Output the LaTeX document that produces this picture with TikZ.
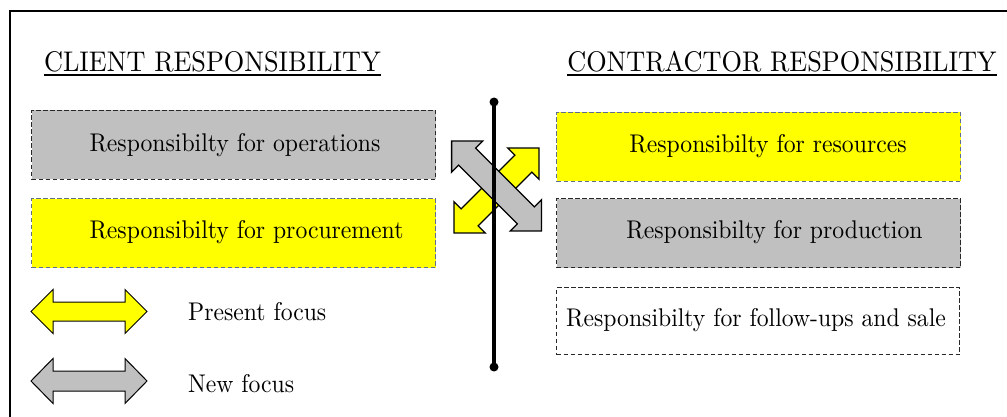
\documentclass[tikz,border=0pt]{standalone}
\usepackage{fontspec}
\setmainfont{lmroman10-regular.otf}[FakeStretch=0.925]
\usetikzlibrary{calc}
\definecolor{boxgray}{RGB}{192,192,192}
\definecolor{boxyellow}{RGB}{255,255,0}
\definecolor{yedge}{RGB}{95,110,140}
\definecolor{gedge}{RGB}{40,40,40}
\begin{document}
\begin{tikzpicture}[x=1pt,y=-1pt,
  box/.style={dashed, dash pattern=on 4.5pt off 2.5pt, line width=1pt, minimum width=404pt, minimum height=69pt, inner sep=0pt, anchor=north west},
  bodytext/.style={font=\fontsize{25.6}{30}\selectfont, inner sep=0pt},
  titletext/.style={font=\fontsize{28.4}{32}\selectfont, inner sep=0pt, anchor=base},
  dotnode/.style={circle, fill=black, minimum size=9pt, inner sep=0pt},
  arrowshape/.style={draw=black, line width=1.3pt, line join=miter}
]
\useasboundingbox (0,0) rectangle (1007,417);
\clip (0,0) rectangle (1007,417);
\fill[white] (0,0) rectangle (1007,417);
% outer frame
\draw[line width=2pt] (10,11) rectangle (1030,440);

% titles
\node[titletext] (tl) at (212.5,72) {CLIENT RESPONSIBILITY};
\node[titletext] (tr) at (782,72) {CONTRACTOR RESPONSIBILITY};
\draw[line width=1.8pt] ($(tl.base west)+(0,3)$) -- ($(tl.base east)+(0,3)$);
\draw[line width=1.8pt] ($(tr.base west)+(0,3)$) -- ($(tr.base east)+(0,3)$);

% left boxes
\node[box, draw=gedge, fill=boxgray] (lb1) at (31,110) {};
\node[bodytext] (lt1) at (235,145) {Responsibilty for operations};
\node[box, draw=yedge, fill=boxyellow] (lb2) at (31,198) {};
\node[bodytext] (lt2) at (246.5,232.5) {Responsibilty for procurement};

% right boxes
\node[box, draw=yedge, fill=boxyellow] (rb1) at (556,112) {};
\node[bodytext] (rt1) at (768,146.5) {Responsibilty for resources};
\node[box, draw=gedge, fill=boxgray] (rb2) at (556,198) {};
\node[bodytext] (rt2) at (774.5,232.5) {Responsibilty for production};
\node[box, draw=gedge, fill=white, minimum width=403pt, minimum height=67pt] (rb3) at (556,287) {};
\node[bodytext] (rt3) at (756,320.5) {Responsibilty for follow-ups and sale};

% crossing arrows
\begin{scope}[shift={(496.5,190.5)}, rotate=45]
  \draw[arrowshape, fill=boxyellow] (-60,0) -- (-38,22) -- (-38,12) -- (38,12) -- (38,22) -- (60,0) -- (38,-22) -- (38,-12) -- (-38,-12) -- (-38,-22) -- cycle;
\end{scope}
\begin{scope}[shift={(496.5,186)}, rotate=-45]
  \draw[arrowshape, fill=boxgray] (-63.5,0) -- (-41.5,22) -- (-41.5,12) -- (41.5,12) -- (41.5,22) -- (63.5,0) -- (41.5,-22) -- (41.5,-12) -- (-41.5,-12) -- (-41.5,-22) -- cycle;
\end{scope}

% vertical divider
\node[dotnode] (vtop) at (494,102) {};
\node[dotnode] (vbot) at (494,367) {};
\draw[line width=3.3pt] (vtop.center) -- (vbot.center);

% legend arrows
\draw[arrowshape, line width=1pt, fill=boxyellow] (31,311.5) -- (53,289.5) -- (53,302) -- (125,302) -- (125,289.5) -- (147,311.5) -- (125,333.5) -- (125,321) -- (53,321) -- (53,333.5) -- cycle;
\draw[arrowshape, line width=1pt, fill=boxgray] (31,381) -- (53,358.5) -- (53,371) -- (125,371) -- (125,358.5) -- (147,381) -- (125,403.5) -- (125,391) -- (53,391) -- (53,403.5) -- cycle;
\node[bodytext, anchor=west] (lg1) at (188,312) {Present focus};
\node[bodytext, anchor=west] (lg2) at (188,384) {New focus};
\end{tikzpicture}
\end{document}
